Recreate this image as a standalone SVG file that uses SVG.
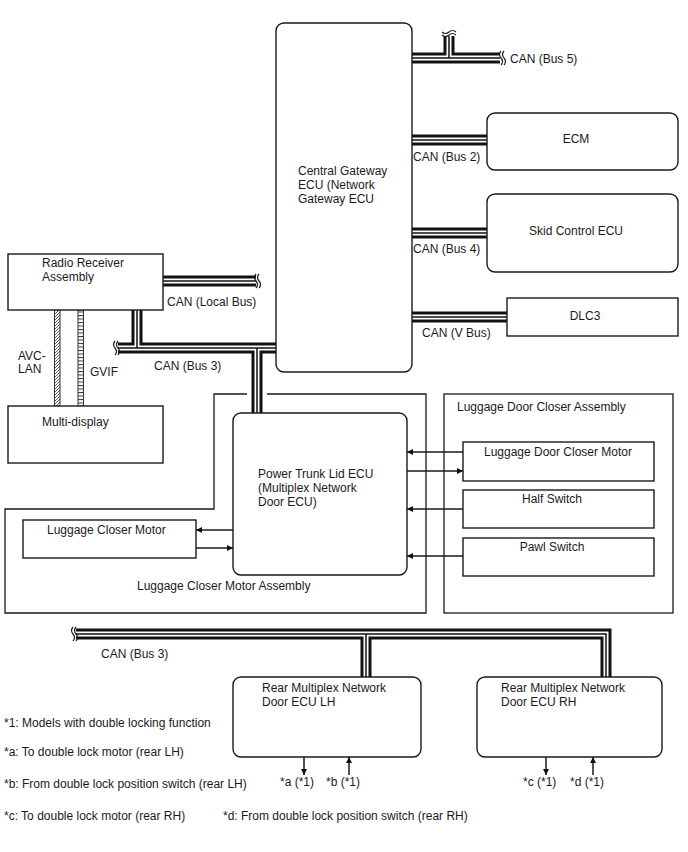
<svg xmlns="http://www.w3.org/2000/svg" xmlns:xlink="http://www.w3.org/1999/xlink" width="688" height="852" viewBox="0 0 688 852">
<style>
text{font-family:"Liberation Sans",Arial,sans-serif;font-size:12px;fill:#1a1a1a}
.m{text-anchor:middle}
.box{fill:#fff;stroke:#1a1a1a;stroke-width:1.4}
.outl{fill:none;stroke:#1a1a1a;stroke-width:1.3}
.arr{fill:none;stroke:#1a1a1a;stroke-width:1.5;marker-end:url(#ah)}
.busK{fill:none;stroke:#111;stroke-width:11;stroke-linejoin:miter}
.busW{fill:none;stroke:#fff;stroke-width:5;stroke-linejoin:miter}
.busM{fill:none;stroke:#111;stroke-width:1.5;stroke-linejoin:miter}
.brk{fill:none;stroke:#1a1a1a;stroke-width:1.2}
</style>
<defs>
<marker id="ah" viewBox="0 0 10 10" refX="10" refY="5" markerWidth="9" markerHeight="6" orient="auto" markerUnits="userSpaceOnUse">
<path d="M0,0 L10,5 L0,10 z" fill="#111"/>
</marker>
<pattern id="hatch" patternUnits="userSpaceOnUse" width="3" height="3">
<path d="M-1,1 L1,-1 M0,3 L3,0 M2,4 L4,2" stroke="#333" stroke-width="0.8"/>
</pattern>
<pattern id="ladder" patternUnits="userSpaceOnUse" width="6" height="3.5">
<path d="M0,0.5 H6" stroke="#333" stroke-width="1"/>
</pattern>
<path id="buses" d="M411,58H500 M449,58V36 M411,140H487 M411,233H487 M411,317H507 M163,281H256 M118,348H276 M137,348V310 M257,348V413 M76,634H606V677 M366,634V677"/>
<path id="brkH" d="M0,-7 q-3,3.5 0,7 q3,3.5 0,7 M3,-7 q-3,3.5 0,7 q3,3.5 0,7"/>
</defs>

<g id="connectors">
<use xlink:href="#buses" class="busK"/>
<use xlink:href="#buses" class="busW"/>
<use xlink:href="#buses" class="busM"/>
<use xlink:href="#brkH" class="brk" transform="translate(501,58)"/>
<use xlink:href="#brkH" class="brk" transform="translate(449,32) rotate(90)"/>
<use xlink:href="#brkH" class="brk" transform="translate(256,281)"/>
<use xlink:href="#brkH" class="brk" transform="translate(115,348)"/>
<use xlink:href="#brkH" class="brk" transform="translate(73,634)"/>
<rect x="54.5" y="310" width="5.5" height="96" fill="url(#hatch)" stroke="#333" stroke-width="1"/>
<rect x="78" y="310" width="5.5" height="96" fill="url(#ladder)" stroke="#333" stroke-width="1"/>
<path class="arr" d="M233,530H196"/>
<path class="arr" d="M196,548H233"/>
<path class="arr" d="M463,452H407"/>
<path class="arr" d="M407,471H463"/>
<path class="arr" d="M463,509H407"/>
<path class="arr" d="M463,556H407"/>
<path class="arr" d="M304,757V775"/>
<path class="arr" d="M349,775V757"/>
<path class="arr" d="M546,757V775"/>
<path class="arr" d="M593,775V757"/>
</g>

<g id="bus-labels">
<text x="510" y="63">CAN (Bus 5)</text>
<text x="413" y="161">CAN (Bus 2)</text>
<text x="413" y="253">CAN (Bus 4)</text>
<text x="422" y="337">CAN (V Bus)</text>
<text x="167" y="306">CAN (Local Bus)</text>
<text x="154" y="370">CAN (Bus 3)</text>
<text x="101" y="658">CAN (Bus 3)</text>
<text x="18" y="360">AVC-</text>
<text x="18" y="373">LAN</text>
<text x="90" y="376">GVIF</text>
</g>

<g id="gateway">
<rect class="box" x="276" y="23" width="136" height="349" rx="8"/>
<text x="298" y="175">Central Gateway</text>
<text x="298" y="189">ECU (Network</text>
<text x="298" y="203">Gateway ECU</text>
</g>
<g id="ecm">
<rect class="box" x="487" y="113" width="191" height="57" rx="8"/>
<text class="m" x="576" y="143">ECM</text>
</g>
<g id="skid">
<rect class="box" x="487" y="194" width="191" height="78" rx="8"/>
<text class="m" x="576" y="235">Skid Control ECU</text>
</g>
<g id="dlc3">
<rect class="box" x="507" y="298" width="171" height="38"/>
<text class="m" x="585" y="320">DLC3</text>
</g>
<g id="radio">
<rect class="box" x="8" y="254" width="155" height="56"/>
<text x="42" y="267">Radio Receiver</text>
<text x="42" y="281">Assembly</text>
</g>
<g id="multidisplay">
<rect class="box" x="8" y="406" width="155" height="57"/>
<text x="42" y="426">Multi-display</text>
</g>
<g id="lcm-assembly">
<path class="outl" d="M247,394H214V509H5V613H426V394H267"/>
<text x="137" y="590">Luggage Closer Motor Assembly</text>
</g>
<g id="lcm">
<rect class="box" x="23" y="520" width="173" height="38"/>
<text x="47" y="534">Luggage Closer Motor</text>
</g>
<g id="trunk-ecu">
<rect class="box" x="233" y="413" width="174" height="162" rx="8"/>
<text x="258" y="478">Power Trunk Lid ECU</text>
<text x="258" y="492">(Multiplex Network</text>
<text x="258" y="506">Door ECU)</text>
</g>
<g id="ldc-assembly">
<rect class="outl" x="444" y="394" width="229" height="219"/>
<text x="457" y="411">Luggage Door Closer Assembly</text>
</g>
<g id="ldc-motor">
<rect class="box" x="463" y="442" width="191" height="39"/>
<text class="m" x="558" y="456">Luggage Door Closer Motor</text>
</g>
<g id="half-switch">
<rect class="box" x="463" y="490" width="191" height="38"/>
<text class="m" x="552" y="503">Half Switch</text>
</g>
<g id="pawl-switch">
<rect class="box" x="463" y="538" width="191" height="38"/>
<text class="m" x="552" y="551">Pawl Switch</text>
</g>
<g id="rear-lh">
<rect class="box" x="233" y="677" width="188" height="80" rx="8"/>
<text x="262" y="692">Rear Multiplex Network</text>
<text x="262" y="706">Door ECU LH</text>
<text x="280" y="786">*a (*1)</text>
<text x="326" y="786">*b (*1)</text>
</g>
<g id="rear-rh">
<rect class="box" x="477" y="677" width="185" height="80" rx="8"/>
<text x="501" y="692">Rear Multiplex Network</text>
<text x="501" y="706">Door ECU RH</text>
<text x="523" y="786">*c (*1)</text>
<text x="570" y="786">*d (*1)</text>
</g>
<g id="notes">
<text x="4" y="727">*1: Models with double locking function</text>
<text x="4" y="756">*a: To double lock motor (rear LH)</text>
<text x="4" y="788">*b: From double lock position switch (rear LH)</text>
<text x="4" y="820">*c: To double lock motor (rear RH)</text>
<text x="223" y="820">*d: From double lock position switch (rear RH)</text>
</g>
</svg>
